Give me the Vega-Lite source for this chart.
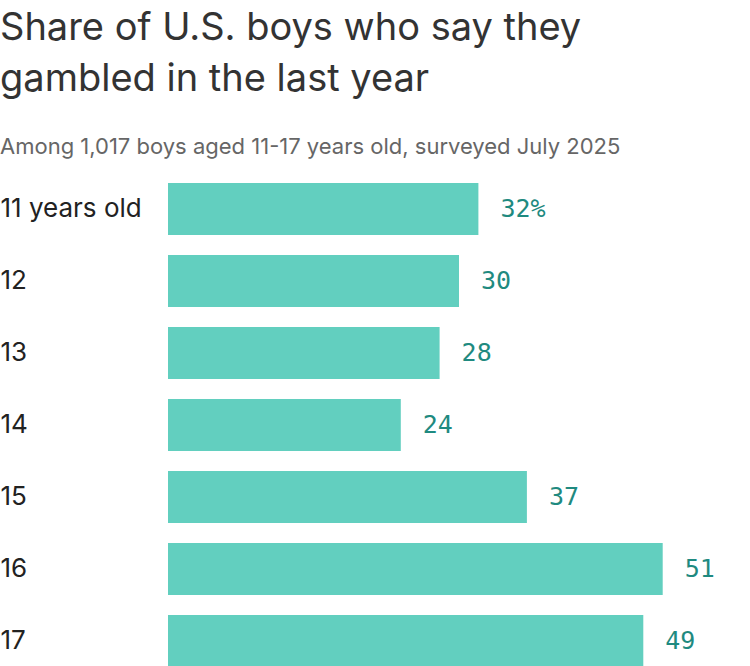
{
  "$schema": "https://vega.github.io/schema/vega-lite/v6.json",
  "autosize": {"type": "none"},
  "padding": {"left": 168, "top": 183, "right": 0, "bottom": 0},
  "width": 582,
  "height": 484,
  "background": "white",
  "title": {
    "text": ["Share of U.S. boys who say they", "gambled in the last year"],
    "subtitle": "Among 1,017 boys aged 11-17 years old, surveyed July 2025",
    "anchor": "start",
    "frame": "group",
    "dx": -168,
    "offset": 25,
    "font": "Inter",
    "fontSize": 38,
    "fontWeight": "normal",
    "lineHeight": 51,
    "color": "#333333",
    "subtitleFont": "Inter",
    "subtitleFontSize": 22,
    "subtitleColor": "#666666",
    "subtitlePadding": 38
  },
  "data": {
    "values": [
      {"age": "11 years old", "share": 32, "label": "32%"},
      {"age": "12", "share": 30, "label": "30"},
      {"age": "13", "share": 28, "label": "28"},
      {"age": "14", "share": 24, "label": "24"},
      {"age": "15", "share": 37, "label": "37"},
      {"age": "16", "share": 51, "label": "51"},
      {"age": "17", "share": 49, "label": "49"}
    ]
  },
  "encoding": {
    "y": {
      "field": "age",
      "type": "nominal",
      "sort": null,
      "scale": {"paddingInner": 0.278, "paddingOuter": 0},
      "axis": {
        "title": null,
        "domain": false,
        "ticks": false,
        "labelAlign": "left",
        "labelPadding": 168,
        "labelFont": "Inter",
        "labelFontSize": 26,
        "labelColor": "#222222",
        "labelLimit": 200
      }
    },
    "x": {
      "field": "share",
      "type": "quantitative",
      "scale": {"domain": [0, 60]},
      "axis": null
    }
  },
  "layer": [
    {"mark": {"type": "bar", "color": "#62cfbf"}},
    {
      "mark": {
        "type": "text",
        "align": "left",
        "dx": 22,
        "font": "DejaVu Sans Mono",
        "fontSize": 25,
        "color": "#1f8a80"
      },
      "encoding": {"text": {"field": "label"}}
    }
  ],
  "config": {"view": {"stroke": null}}
}
